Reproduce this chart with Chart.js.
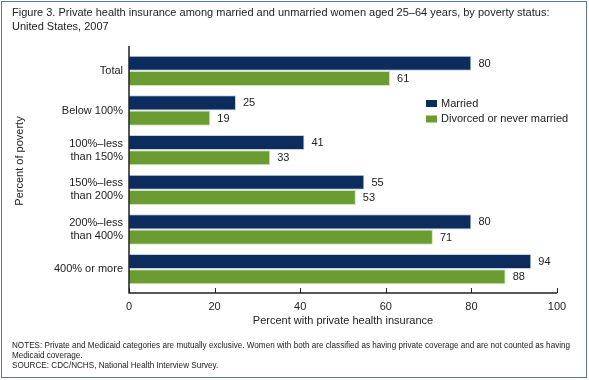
<!DOCTYPE html>
<html>
<head>
<meta charset="utf-8">
<script src="https://cdn.jsdelivr.net/npm/chart.js@4/dist/chart.umd.min.js"></script>
<style>
  html, body { margin: 0; padding: 0; background: #fff; }
  #wrap { position: relative; width: 589px; height: 380px; overflow: hidden; font-family: "Liberation Sans", Arial, sans-serif; color: #222; }
  #frame { position: absolute; left: 1px; top: 1px; width: 584px; height: 375px; border: 1.5px solid #5877a3; box-sizing: content-box; pointer-events: none; }
  #title { position: absolute; left: 12px; top: 5px; font-size: 11px; line-height: 14px; white-space: nowrap; }
  #notes { position: absolute; left: 12px; top: 341px; font-size: 8.15px; line-height: 10px; white-space: nowrap; }
  canvas { position: absolute; left: 0; top: 0; }
</style>
</head>
<body>
<div id="wrap">
  <canvas id="c" width="589" height="380"></canvas>
  <div id="title">Figure 3. Private health insurance among married and unmarried women aged 25–64 years, by poverty status:<br>United States, 2007</div>
  <div id="notes">NOTES: Private and Medicaid categories are mutually exclusive. Women with both are classified as having private coverage and are not counted as having<br>Medicaid coverage.<br>SOURCE: CDC/NCHS, National Health Interview Survey.</div>
  <div id="frame"></div>
</div>
<script>
const categories = [
  ["Total"],
  ["Below 100%"],
  ["100%–less", "than 150%"],
  ["150%–less", "than 200%"],
  ["200%–less", "than 400%"],
  ["400% or more"]
];
const married = [80, 25, 41, 55, 80, 94];
const divorcedNeverMarried = [61, 19, 33, 53, 71, 88];
const xTicks = [0, 20, 40, 60, 80, 100];
const seriesNames = ["Married", "Divorced or never married"];
const seriesColors = ["#0b2c5c", "#6a9c31"];
const xTitle = "Percent with private health insurance";
const yTitle = "Percent of poverty";

const FONT = '"Liberation Sans", Arial, sans-serif';
const TEXT = '#222';

const overlay = {
  id: 'overlay',
  afterDatasetsDraw(chart) {
    const ctx = chart.ctx;
    const x = chart.scales.x;
    ctx.save();
    ctx.font = '11px ' + FONT;
    ctx.fillStyle = TEXT;
    ctx.textBaseline = 'middle';
    ctx.textAlign = 'left';
    chart.data.datasets.forEach((ds, di) => {
      const meta = chart.getDatasetMeta(di);
      meta.data.forEach((bar, i) => {
        ctx.fillText(String(ds.data[i]), bar.x + 7, bar.y + 0.5);
      });
    });
    const x0 = x.getPixelForValue(0), x1 = x.getPixelForValue(100);
    const axisY = chart.chartArea.bottom + 4;
    const topY = chart.chartArea.top - 5;
    ctx.strokeStyle = '#222';
    ctx.lineWidth = 1.5;
    ctx.beginPath();
    ctx.moveTo(x0, topY); ctx.lineTo(x0, axisY);
    ctx.lineTo(x1, axisY);
    ctx.stroke();
    ctx.lineWidth = 1;
    xTicks.forEach(t => {
      const px = Math.round(x.getPixelForValue(t)) + 0.5;
      ctx.beginPath(); ctx.moveTo(px, axisY); ctx.lineTo(px, axisY - 5); ctx.stroke();
    });
    ctx.save();
    ctx.translate(20, 161);
    ctx.rotate(-Math.PI / 2);
    ctx.textAlign = 'center';
    ctx.textBaseline = 'middle';
    ctx.font = '11px ' + FONT;
    ctx.fillText(yTitle, 0, 0);
    ctx.restore();
    ctx.font = '11px ' + FONT;
    ctx.textAlign = 'left';
    ctx.textBaseline = 'middle';
    chart.data.datasets.forEach((ds, di) => {
      const ly = 100 + di * 15.5;
      ctx.fillStyle = ds.backgroundColor;
      ctx.fillRect(426, ly, 11, 7);
      ctx.fillStyle = TEXT;
      ctx.fillText(ds.label, 441, ly + 3.5);
    });
    ctx.restore();
  }
};

new Chart(document.getElementById('c'), {
  type: 'bar',
  data: {
    labels: categories,
    datasets: [
      { label: seriesNames[0], data: married, backgroundColor: seriesColors[0], borderColor: '#c9d3df', borderWidth: 1, borderSkipped: 'start' },
      { label: seriesNames[1], data: divorcedNeverMarried, backgroundColor: seriesColors[1], borderColor: '#d4e2c2', borderWidth: 1, borderSkipped: 'start' }
    ]
  },
  options: {
    indexAxis: 'y',
    responsive: false,
    animation: false,
    devicePixelRatio: 1,
    layout: { padding: { left: 0, top: 51, right: 32, bottom: 52 } },
    datasets: { bar: { categoryPercentage: 0.77, barPercentage: 0.99 } },
    plugins: { legend: { display: false }, tooltip: { enabled: false }, title: { display: false } },
    scales: {
      x: {
        min: 0, max: 100,
        afterBuildTicks(s) { s.ticks = xTicks.map(v => ({ value: v })); },
        afterFit(s) { s.height = 39; },
        grid: { display: false, drawTicks: false },
        border: { display: false },
        ticks: { color: TEXT, font: { family: FONT, size: 11 }, padding: 11 },
        title: { display: true, text: xTitle, color: TEXT, font: { family: FONT, size: 11 }, padding: { top: 0, bottom: 0 } }
      },
      y: {
        afterFit(s) { s.width = 129; },
        grid: { display: false, drawTicks: false },
        border: { display: false },
        ticks: { color: TEXT, font: { family: FONT, size: 11 }, padding: 6 }
      }
    }
  },
  plugins: [overlay]
});
</script>
</body>
</html>
